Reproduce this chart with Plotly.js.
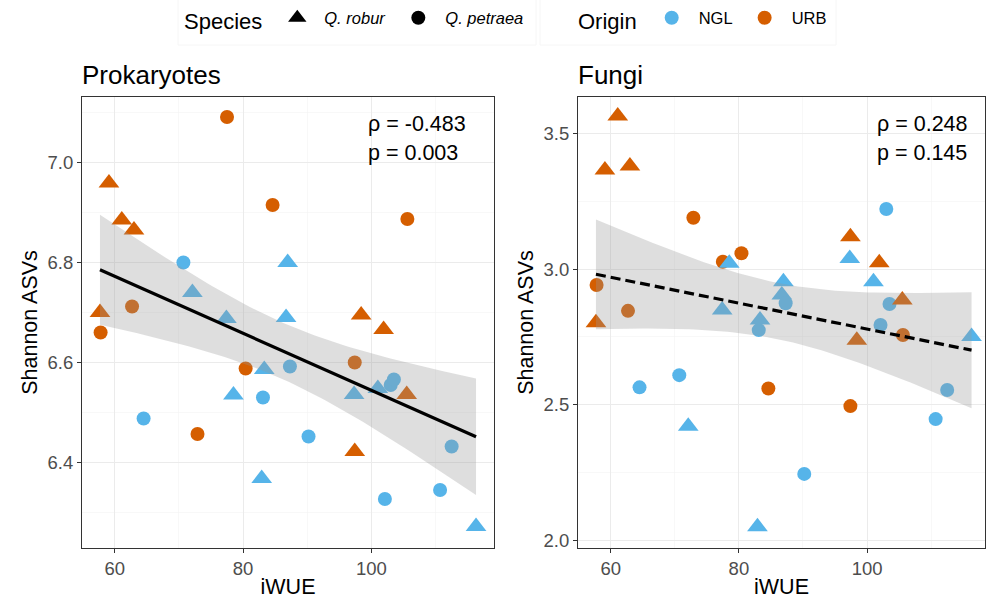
<!DOCTYPE html>
<html>
<head>
<meta charset="utf-8">
<script src="https://cdn.plot.ly/plotly-3.0.1.min.js"></script>
<style>html,body{margin:0;padding:0;background:#fff;}#chart{width:986px;height:608px;}</style>
</head>
<body>
<div id="chart"></div>
<script>
// ---- data ----
const iWUE = [57.7, 57.8, 59.1, 61.1, 62.7, 63.0, 64.5, 70.7, 72.1, 72.9, 77.4, 77.5,
              78.5, 80.4, 82.9, 83.1, 83.3, 84.6, 86.7, 86.95, 87.3, 90.2, 97.3, 97.4,
              97.4, 98.4, 101.0, 101.9, 102.1, 103.0, 103.5, 105.5, 105.6, 110.7, 112.5, 116.3];
const species = ['R','P','R','R','P','R','P','P','R','P','R','P',
                 'R','P','R','P','R','P','R','R','P','P','R','P',
                 'R','R','R','R','P','P','P','R','P','P','P','R'];
const origin = ['URB','URB','URB','URB','URB','URB','NGL','NGL','NGL','URB','NGL','URB',
                'NGL','URB','NGL','NGL','NGL','URB','NGL','NGL','NGL','NGL','NGL','URB',
                'URB','URB','NGL','URB','NGL','NGL','NGL','URB','URB','NGL','NGL','NGL'];
const prokaryotes = [6.700, 6.660, 6.959, 6.885, 6.712, 6.865, 6.488, 6.800, 6.740, 6.457, 6.688, 7.091,
                     6.535, 6.588, 6.368, 6.530, 6.586, 6.915, 6.690, 6.800, 6.592, 6.452, 6.536, 6.600,
                     6.422, 6.695, 6.548, 6.666, 6.327, 6.555, 6.566, 6.536, 6.887, 6.345, 6.432, 6.272];
const fungi = [2.802, 2.941, 3.365, 3.564, 2.846, 3.380, 2.564, 2.609, 2.421, 3.189, 2.849, 3.027,
               3.021, 3.058, 2.050, 2.775, 2.812, 2.560, 2.904, 2.953, 2.874, 2.245, 3.039, 2.495,
               3.119, 2.738, 2.953, 3.023, 2.794, 3.221, 2.871, 2.886, 2.757, 2.447, 2.554, 2.751];
const statsProk = ['ρ = -0.483', 'p = 0.003'];
const statsFungi = ['ρ = 0.248', 'p = 0.145'];
const speciesNames = {R: 'Q. robur', P: 'Q. petraea'};
const originNames = ['NGL', 'URB'];
const xTicks = [60, 80, 100];
const yTicksProk = [6.4, 6.6, 6.8, 7.0];
const yTicksFungi = [2.0, 2.5, 3.0, 3.5];

// ---- styles ----
const COL = {NGL: '#56B4E9', URB: '#D55E00'};
const SYM = {R: 'triangle-up', P: 'circle'};
const SIZE = {R: 18, P: 14};
const FONT = 'Liberation Sans, Arial, Helvetica, sans-serif';

function lmBand(x, y) {
  const n = x.length;
  const mx = x.reduce((a, b) => a + b, 0) / n;
  const my = y.reduce((a, b) => a + b, 0) / n;
  let sxx = 0, sxy = 0;
  for (let i = 0; i < n; i++) { sxx += (x[i]-mx)*(x[i]-mx); sxy += (x[i]-mx)*(y[i]-my); }
  const b = sxy / sxx, a = my - b * mx;
  let sse = 0;
  for (let i = 0; i < n; i++) { const r = y[i] - (a + b * x[i]); sse += r * r; }
  const s = Math.sqrt(sse / (n - 2));
  const t = 2.0322; // t(0.975, 34)
  const xmin = Math.min(...x), xmax = Math.max(...x);
  const xs = [], fit = [], lo = [], hi = [];
  const N = 80;
  for (let k = 0; k <= N; k++) {
    const xv = xmin + (xmax - xmin) * k / N;
    const f = a + b * xv;
    const se = s * Math.sqrt(1 / n + (xv - mx) * (xv - mx) / sxx);
    xs.push(xv); fit.push(f); lo.push(f - t * se); hi.push(f + t * se);
  }
  return {xs, fit, lo, hi};
}

function panelTraces(y, xa, ya, dash) {
  const band = lmBand(iWUE, y);
  return [
    {
      type: 'scatter', mode: 'markers', x: iWUE, y: y, xaxis: xa, yaxis: ya,
      showlegend: false, hoverinfo: 'skip',
      marker: {
        color: origin.map(o => COL[o]),
        symbol: species.map(s => SYM[s]),
        size: species.map(s => SIZE[s]),
        opacity: 1,
        line: {width: 0}
      }
    },
    {
      type: 'scatter', mode: 'lines', xaxis: xa, yaxis: ya, showlegend: false, hoverinfo: 'skip',
      x: band.xs.concat(band.xs.slice().reverse()),
      y: band.hi.concat(band.lo.slice().reverse()),
      fill: 'toself', fillcolor: 'rgba(153,153,153,0.32)', line: {width: 0}
    },
    {
      type: 'scatter', mode: 'lines', x: band.xs, y: band.fit, xaxis: xa, yaxis: ya,
      showlegend: false, hoverinfo: 'skip',
      line: {color: '#000', width: 3.2, dash: dash}
    }
  ];
}

const traces = [].concat(
  panelTraces(prokaryotes, 'x', 'y', 'solid'),
  panelTraces(fungi, 'x2', 'y2', '10px,5px')
);

// legend entries
['R', 'P'].forEach(s => traces.push({
  type: 'scatter', mode: 'markers', x: [null], y: [null], legend: 'legend',
  name: '<i>' + speciesNames[s] + '</i>',
  marker: {color: '#000', symbol: SYM[s], size: s === 'R' ? 16 : 14}
}));
originNames.forEach(o => traces.push({
  type: 'scatter', mode: 'markers', x: [null], y: [null], legend: 'legend2',
  name: o, marker: {color: COL[o], symbol: 'circle', size: 14}
}));

function xAxis(domain, range, anchor) {
  return {
    domain: domain, range: range, anchor: anchor,
    tickvals: xTicks, ticks: 'outside', ticklen: 4, tickcolor: '#333',
    tickfont: {size: 18.5, color: '#4D4D4D', family: FONT},
    showgrid: true, gridcolor: '#EBEBEB', gridwidth: 1,
    minor: {tickvals: [70, 90, 110], showgrid: true, gridcolor: '#F4F4F4', gridwidth: 0.6, ticks: ''},
    showline: true, linecolor: '#333', linewidth: 1, mirror: true, zeroline: false,
    title: {text: 'iWUE', font: {size: 21.5, color: '#000', family: FONT}, standoff: 0}
  };
}
function yAxis(domain, range, anchor, major, minor) {
  return {
    domain: domain, range: range, anchor: anchor,
    tickvals: major, ticktext: major.map(v => v.toFixed(1)),
    ticks: 'outside', ticklen: 4, tickcolor: '#333',
    tickfont: {size: 18.5, color: '#4D4D4D', family: FONT},
    showgrid: true, gridcolor: '#EBEBEB', gridwidth: 1,
    minor: {tickvals: minor, showgrid: true, gridcolor: '#F4F4F4', gridwidth: 0.6, ticks: ''},
    showline: true, linecolor: '#333', linewidth: 1, mirror: true, zeroline: false,
    title: {text: 'Shannon ASVs', font: {size: 21.5, color: '#000', family: FONT}, standoff: 4}
  };
}

const yDom = [60 / 608, 511 / 608];
const ann = [];
function addTitle(text, xpx) {
  ann.push({text: text, xref: 'paper', yref: 'paper', x: xpx / 986, y: (608 - 75) / 608,
            xanchor: 'left', yanchor: 'middle', showarrow: false,
            font: {size: 26, color: '#000', family: FONT}});
}
function addStats(lines, xpx) {
  [124, 153].forEach((ypx, i) => ann.push({text: lines[i], xref: 'paper', yref: 'paper',
    x: xpx / 986, y: (608 - ypx) / 608, xanchor: 'left', yanchor: 'middle', showarrow: false,
    font: {size: 21.5, color: '#000', family: FONT}}));
}
addTitle('Prokaryotes', 80);
addTitle('Fungi', 576);
addStats(statsProk, 366);
addStats(statsFungi, 875);

const legendCommon = {
  orientation: 'h', yanchor: 'middle', y: (608 - 20) / 608, xanchor: 'left',
  bgcolor: 'rgba(0,0,0,0)', borderwidth: 0,
  font: {size: 16.5, color: '#000', family: FONT}, itemwidth: 44
};

const layout = {
  width: 986, height: 608,
  margin: {l: 0, r: 0, t: 0, b: 0},
  paper_bgcolor: '#fff', plot_bgcolor: '#fff',
  font: {family: FONT},
  xaxis: xAxis([82 / 986, 494 / 986], [54.9, 119.1], 'y'),
  yaxis: yAxis(yDom, [6.229, 7.131], 'x', yTicksProk, [6.3, 6.5, 6.7, 6.9, 7.1]),
  xaxis2: xAxis([578 / 986, 985 / 986], [54.9, 118.4], 'y2'),
  yaxis2: yAxis(yDom, [1.972, 3.634], 'x2', yTicksFungi, [2.25, 2.75, 3.25]),
  legend: Object.assign({}, legendCommon, {
    x: 182 / 986,
    title: {text: 'Species', side: 'left', font: {size: 22, color: '#000', family: FONT}}
  }),
  legend2: Object.assign({}, legendCommon, {
    x: 576 / 986,
    title: {text: 'Origin', side: 'left', font: {size: 22, color: '#000', family: FONT}}
  }),
  shapes: [
    {type: 'rect', xref: 'paper', yref: 'paper', x0: 178 / 986, x1: 536 / 986, y0: 563 / 608, y1: 1.01,
     line: {color: '#F6F6F6', width: 1}, fillcolor: 'rgba(0,0,0,0)', layer: 'below'},
    {type: 'rect', xref: 'paper', yref: 'paper', x0: 540 / 986, x1: 836 / 986, y0: 563 / 608, y1: 1.01,
     line: {color: '#F6F6F6', width: 1}, fillcolor: 'rgba(0,0,0,0)', layer: 'below'}
  ],
  annotations: ann,
  showlegend: true
};

Plotly.newPlot('chart', traces, layout, {displayModeBar: false, staticPlot: true});
</script>
</body>
</html>
